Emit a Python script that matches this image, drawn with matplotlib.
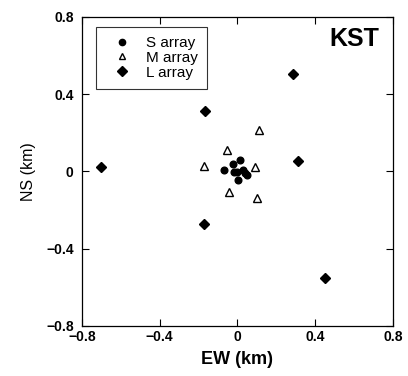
import matplotlib
matplotlib.use('Agg')
import matplotlib.pyplot as plt
from matplotlib.lines import Line2D

plt.rcParams['font.family'] = ['Liberation Sans', 'DejaVu Sans']

# S array (small circles)
s_ew = [-0.068, -0.025, 0.013, 0.000, 0.030, 0.047, 0.001, -0.016, 0.039]
s_ns = [0.009, 0.041, 0.057, -0.003, 0.005, -0.017, -0.043, -0.005, -0.008]

# M array (open triangles)
m_ew = [0.112, -0.054, -0.173, 0.088, -0.042, 0.100]
m_ns = [0.216, 0.112, 0.026, 0.021, -0.104, -0.138]

# L array (diamonds)
l_ew = [0.284, -0.167, -0.700, 0.313, -0.173, 0.451]
l_ns = [0.506, 0.311, 0.023, 0.052, -0.272, -0.552]

ticks = [-0.8, -0.4, 0, 0.4, 0.8]
tick_labels = ['\u22120.8', '\u22120.4', '0', '0.4', '0.8']

fig = plt.figure(figsize=(4.08, 3.76), dpi=100)
ax = fig.add_axes([0.201, 0.133, 0.762, 0.822])

ax.plot(s_ew, s_ns, 'o', color='black', markersize=4.8, linestyle='none')
ax.plot(m_ew, m_ns, '^', markerfacecolor='white', markeredgecolor='black',
        markeredgewidth=1.0, markersize=6, linestyle='none')
ax.plot(l_ew, l_ns, 'D', color='black', markersize=5.6, linestyle='none')

ax.set_xlim(-0.8, 0.8)
ax.set_ylim(-0.8, 0.8)
ax.set_xticks(ticks)
ax.set_yticks(ticks)
ax.set_xticklabels(tick_labels, fontweight='bold', fontsize=10)
ax.set_yticklabels(tick_labels, fontweight='bold', fontsize=10)
ax.tick_params(direction='in', length=5, width=0.8, top=True, right=True)
ax.tick_params(axis='x', pad=3)
ax.tick_params(axis='y', pad=6)
for sp in ax.spines.values():
    sp.set_linewidth(0.9)

ax.set_xlabel('EW (km)', fontsize=13, fontweight='bold', labelpad=5)
ax.set_ylabel('NS (km)', fontsize=11.5, labelpad=7)

ax.text(0.955, 0.93, 'KST', transform=ax.transAxes, ha='right', va='center',
        fontsize=18, fontweight='bold')

handles = [
    Line2D([], [], marker='o', color='black', linestyle='none', markersize=4.5),
    Line2D([], [], marker='^', markerfacecolor='white', markeredgecolor='black',
           linestyle='none', markersize=5),
    Line2D([], [], marker='D', color='black', linestyle='none', markersize=5.5),
]
leg = ax.legend(handles, ['S array', 'M array', 'L array'], loc='upper left',
                bbox_to_anchor=(0.045, 0.968), fontsize=11, frameon=True,
                fancybox=False, edgecolor='black', handlelength=2.2,
                handletextpad=0.5, labelspacing=0.05, borderpad=0.6,
                borderaxespad=0)
leg.get_frame().set_linewidth(0.8)

fig.savefig('out.png', dpi=100)
